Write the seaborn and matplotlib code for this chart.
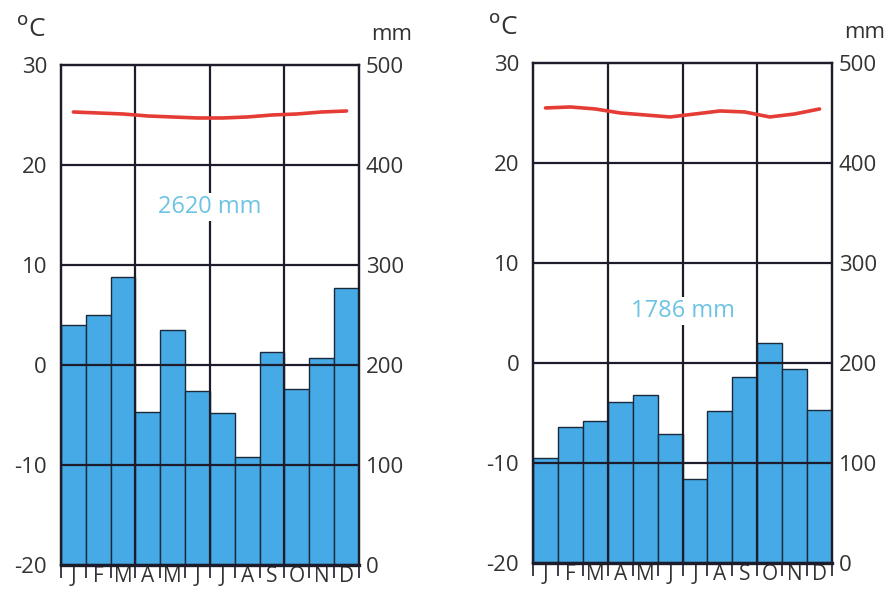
import numpy as np
import matplotlib
matplotlib.use("Agg")
import matplotlib.pyplot as plt
import seaborn as sns

# climate chart data
months = ["J", "F", "M", "A", "M", "J", "J", "A", "S", "O", "N", "D"]

# left station, total 2620 mm
precip_left = [240, 250, 288, 153, 235, 174, 152, 108, 213, 176, 207, 277]
temp_left = [25.3, 25.2, 25.1, 24.9, 24.8, 24.7, 24.7, 24.8, 25.0, 25.1, 25.3, 25.4]

# right station, total 1786 mm
precip_right = [105, 136, 142, 161, 168, 129, 84, 152, 186, 220, 194, 153]
temp_right = [25.5, 25.6, 25.4, 25.0, 24.8, 24.6, 24.9, 25.2, 25.1, 24.6, 24.9, 25.4]

totals = ["2620 mm", "1786 mm"]
total_pos = [15.8, 5.2]

temp_ticks = [-20, -10, 0, 10, 20, 30]
precip_ticks = [0, 100, 200, 300, 400, 500]

sns.set_style("white")
plt.rcParams["font.family"] = ["Open Sans", "DejaVu Sans"]

bar_color = "#45aae6"
line_color = "#e63c36"
grid_color = "#1c1c2a"
text_color = "#333333"


def climate_panel(fig, rect, precip, temp, total, total_y):
    ax2 = fig.add_axes(rect)          # precipitation (drawn behind)
    ax = ax2.twinx()                  # temperature on top
    ax.yaxis.tick_left()
    ax2.yaxis.tick_right()

    x = np.arange(12)
    sns.barplot(x=x, y=precip, ax=ax2, color=bar_color, width=1.0,
                edgecolor="#1a2a3a", linewidth=1.0, saturation=1)
    ax2.set_ylim(0, 500)
    ax2.set_xlim(-0.5, 11.5)

    ax.set_zorder(ax2.get_zorder() + 1)
    ax.patch.set_visible(False)
    ax.set_ylim(-20, 30)
    ax.set_xlim(-0.5, 11.5)

    # grid
    for t in temp_ticks[1:-1]:
        ax.axhline(t, color=grid_color, lw=1.6, zorder=1)
    for v in [2.5, 5.5, 8.5]:
        ax.axvline(v, color=grid_color, lw=1.6, zorder=1)

    sns.lineplot(x=x, y=temp, ax=ax, color=line_color, lw=2.6, zorder=3)

    ax.text(5.5, total_y, total, ha="center", va="center", fontsize=17,
            color="#6cc3e3", zorder=2,
            bbox=dict(facecolor="white", edgecolor="none", pad=1.5))

    # axis labels / ticks
    ax.set_yticks(temp_ticks)
    ax.set_yticklabels([str(t) for t in temp_ticks], fontsize=16, color=text_color)
    ax2.set_yticks(precip_ticks)
    ax2.set_yticklabels([str(p) for p in precip_ticks], fontsize=16, color=text_color)
    ax.tick_params(axis="y", length=0, pad=10)
    ax2.tick_params(axis="y", length=0, pad=5)
    ax.set_ylabel("")
    ax2.set_ylabel("")

    # months along the bottom of the base axes
    ax2.set_xticks(x)
    ax2.set_xticklabels(months, fontsize=15, color=text_color)
    ax2.set_xticks(np.arange(-0.5, 12, 1), minor=True)
    ax2.tick_params(axis="x", which="major", length=0, pad=1)
    ax2.tick_params(axis="x", which="minor", length=9, width=1.2,
                    color=grid_color, direction="out", bottom=True)
    ax2.set_xlabel("")

    for a in (ax, ax2):
        for s in a.spines.values():
            s.set_color(grid_color)
            s.set_linewidth(1.6)
    ax.spines["bottom"].set_linewidth(2.4)

    ax.text(-0.1, 1.045, "$^{\\mathrm{o}}$C", transform=ax.transAxes,
            fontsize=19, color=text_color, ha="center", va="bottom")
    ax.text(1.11, 1.04, "mm", transform=ax.transAxes,
            fontsize=16, color=text_color, ha="center", va="bottom")
    return ax


fig = plt.figure(figsize=(8.89, 5.94), dpi=100)
climate_panel(fig, [0.0686, 0.0488, 0.3352, 0.8418], precip_left, temp_left,
              totals[0], total_pos[0])
climate_panel(fig, [0.5996, 0.0522, 0.3363, 0.8418], precip_right, temp_right,
              totals[1], total_pos[1])

fig.savefig("out.png", dpi=100)
